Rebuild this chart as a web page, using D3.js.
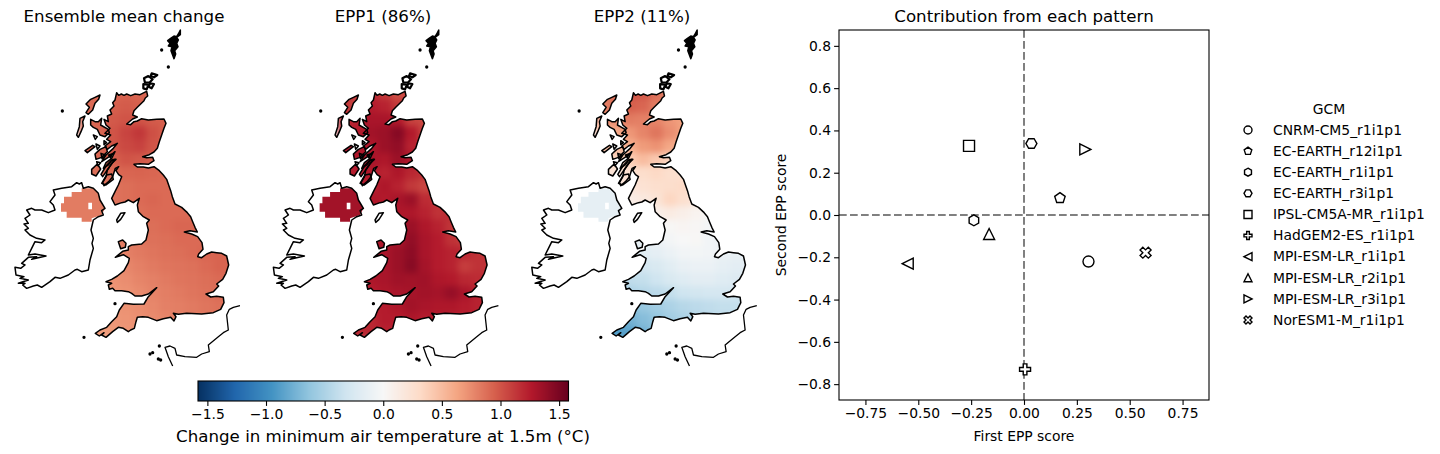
<!DOCTYPE html>
<html><head><meta charset="utf-8">
<script src="https://cdn.jsdelivr.net/npm/d3@7"></script>
<style>
html,body{margin:0;padding:0;background:#fff}
text{font-family:"DejaVu Sans";fill:#000}
</style></head><body>
<svg id="c" width="1440" height="454"></svg>
<script>
// ---- scatter data
const gcms=["CNRM-CM5_r1i1p1","EC-EARTH_r12i1p1","EC-EARTH_r1i1p1","EC-EARTH_r3i1p1","IPSL-CM5A-MR_r1i1p1","HadGEM2-ES_r1i1p1","MPI-ESM-LR_r1i1p1","MPI-ESM-LR_r2i1p1","MPI-ESM-LR_r3i1p1","NorESM1-M_r1i1p1"];
const firstScore=[0.305,0.17,-0.237,0.035,-0.26,0.005,-0.55,-0.165,0.29,0.575];
const secondScore=[-0.22,0.08,-0.025,0.338,0.327,-0.73,-0.23,-0.09,0.31,-0.178];
const markerNames=["circle","pentagon","hexPointy","hexFlat","square","plus","left","up","right","cross"];
const scatterXTicks=[-0.75,-0.5,-0.25,0,0.25,0.5,0.75];
const scatterYTicks=[-0.8,-0.6,-0.4,-0.2,0,0.2,0.4,0.6,0.8];
const barTicks=[-1.5,-1,-0.5,0,0.5,1,1.5];
const panelTitles=["Ensemble mean change","EPP1 (86%)","EPP2 (11%)"];
const rdbuStops=["#053061","#2166ac","#4393c3","#92c5de","#d1e5f0","#f7f7f7","#fddbc7","#f4a582","#d6604d","#b2182b","#67001f"];

// ---- temperature fields (deg C), block rows north to south
const meanField=[
[.90,.90,.92,.93,.92,.92,.90,.90,.90,.90,.90,.90],
[.90,.90,.95,.97,.95,.93,.90,.90,.90,.90,.90,.90],
[.90,.92,.98,1.0,1.0,.97,.95,.90,.90,.90,.90,.90],
[.90,.92,1.0,1.07,1.13,1.02,.95,.90,.90,.90,.90,.90],
[.90,.92,1.0,1.05,1.08,1.0,.95,.90,.90,.90,.90,.90],
[.88,.90,.95,1.0,.98,.95,.92,.90,.90,.90,.90,.90],
[.88,.88,.90,.92,.93,.92,.90,.90,.90,.90,.90,.90],
[.85,.85,.86,.88,.90,.90,.90,.90,.90,.90,.90,.90],
[.85,.85,.86,.88,.90,.92,.90,.90,.90,.90,.90,.90],
[.82,.82,.85,.87,.88,.90,.90,.90,.90,.90,.90,.90],
[.80,.82,.83,.85,.86,.88,.90,.92,.92,.92,.92,.92],
[.80,.80,.80,.83,.85,.87,.88,.90,.90,.90,.90,.90],
[.78,.78,.78,.80,.83,.85,.87,.88,.90,.92,.93,.93],
[.75,.75,.75,.77,.80,.83,.85,.86,.87,.90,.93,.93],
[.72,.72,.72,.74,.78,.80,.83,.85,.86,.88,.90,.90],
[.70,.70,.70,.72,.75,.79,.81,.83,.85,.87,.90,.90],
[.69,.70,.70,.72,.74,.77,.80,.81,.83,.85,.87,.87],
[.68,.68,.70,.71,.73,.75,.78,.80,.82,.84,.85,.85],
[.66,.66,.68,.70,.72,.74,.76,.78,.80,.82,.84,.84]];
const epp1Field=[
[1.2,1.1,1.18,1.12,1.02,1.1,1.2,1.2,1.2,1.2,1.2,1.2],
[1.12,1.05,1.25,1.22,1.12,1.15,1.2,1.2,1.2,1.2,1.2,1.2],
[1.2,1.22,1.3,1.3,1.26,1.08,1.05,1.2,1.2,1.2,1.2,1.2],
[1.2,1.25,1.33,1.36,1.45,1.26,1.08,1.2,1.2,1.2,1.2,1.2],
[1.25,1.28,1.28,1.36,1.4,1.22,1.18,1.2,1.2,1.2,1.2,1.2],
[1.25,1.28,1.3,1.28,1.36,1.28,1.2,1.2,1.2,1.2,1.2,1.2],
[1.25,1.25,1.26,1.22,1.28,1.2,1.15,1.2,1.2,1.2,1.2,1.2],
[1.25,1.25,1.22,1.28,1.22,1.12,1.06,1.12,1.2,1.2,1.2,1.2],
[1.28,1.28,1.28,1.26,1.3,1.36,1.18,1.15,1.2,1.2,1.2,1.2],
[1.28,1.28,1.28,1.28,1.28,1.28,1.22,1.15,1.18,1.2,1.2,1.2],
[1.28,1.28,1.28,1.28,1.28,1.36,1.28,1.22,1.14,1.12,1.2,1.2],
[1.28,1.28,1.3,1.28,1.3,1.4,1.3,1.25,1.15,1.1,1.2,1.2],
[1.28,1.28,1.28,1.3,1.36,1.42,1.3,1.25,1.22,1.2,1.15,1.15],
[1.32,1.32,1.28,1.3,1.36,1.44,1.32,1.25,1.22,1.1,1.15,1.15],
[1.32,1.32,1.28,1.3,1.34,1.33,1.34,1.28,1.26,1.2,1.18,1.18],
[1.28,1.28,1.25,1.28,1.3,1.32,1.33,1.32,1.38,1.3,1.22,1.22],
[1.22,1.22,1.22,1.25,1.28,1.33,1.3,1.28,1.28,1.25,1.22,1.22],
[1.2,1.2,1.2,1.25,1.25,1.28,1.25,1.25,1.22,1.22,1.22,1.22],
[1.2,1.2,1.2,1.22,1.22,1.22,1.22,1.22,1.22,1.22,1.22,1.22]];
const epp2Field=[
[.8,.88,1.0,.98,.88,.75,.65,.6,.6,.6,.6,.6],
[.8,.88,.95,.92,.82,.75,.65,.6,.6,.6,.6,.6],
[.7,.75,.82,.8,.78,.7,.65,.6,.6,.6,.6,.6],
[.55,.6,.7,.78,.85,.74,.65,.6,.6,.6,.6,.6],
[.48,.52,.58,.68,.72,.62,.55,.5,.5,.5,.5,.5],
[.3,.34,.4,.5,.42,.35,.3,.3,.3,.3,.3,.3],
[.2,.22,.25,.28,.32,.27,.25,.25,.2,.2,.2,.2],
[.15,.18,.2,.24,.27,.28,.3,.25,.2,.2,.2,.2],
[.1,.1,.12,.16,.22,.34,.27,.2,.15,.15,.1,.1],
[0,0,0,.05,.1,.14,.1,.05,.02,0,0,0],
[-.05,-.05,-.05,-.03,0,.01,.03,.02,-.03,-.05,-.05,-.05],
[-.12,-.12,-.12,-.12,-.08,-.03,.0,.01,-.05,-.1,-.1,-.1],
[-.2,-.2,-.2,-.18,-.15,-.1,-.05,-.04,-.05,-.1,-.12,-.12],
[-.3,-.3,-.28,-.28,-.25,-.18,-.12,-.1,-.1,-.14,-.17,-.17],
[-.4,-.4,-.4,-.38,-.32,-.25,-.2,-.17,-.17,-.2,-.22,-.22],
[-.5,-.5,-.5,-.45,-.42,-.38,-.32,-.3,-.28,-.28,-.28,-.28],
[-.65,-.65,-.65,-.6,-.55,-.5,-.45,-.42,-.4,-.38,-.38,-.38],
[-.8,-.8,-.75,-.68,-.62,-.55,-.5,-.45,-.42,-.4,-.4,-.4],
[-.9,-.9,-.85,-.75,-.65,-.55,-.5,-.45,-.42,-.4,-.4,-.4]];
const niValues=[0.82,1.33,-0.14];
const fieldCols=[260,300,340,380,420,460,500,540,580,620,660,700];
const fieldRows=[220,260,300,340,380,420,460,500,540,580,620,660,700,740,780,820,860,900,940];

// ---- coastlines in map grid units
const gbCoast=[[350,218],[356,226],[364,222],[372,226],[380,222],[392,227],[405,222],[420,224],[432,218],[440,214],[443,228],[436,234],[432,242],[422,252],[412,262],[402,272],[398,285],[412,291],[398,297],[380,312],[392,314],[402,305],[412,303],[425,296],[445,300],[470,298],[492,297],[498,310],[492,325],[485,345],[478,365],[472,385],[462,396],[448,404],[428,410],[440,413],[458,412],[462,422],[445,433],[420,431],[402,433],[412,441],[430,441],[445,444],[462,440],[478,452],[490,465],[500,478],[507,498],[512,512],[517,530],[525,552],[545,562],[562,578],[572,590],[578,605],[585,622],[592,636],[570,632],[553,636],[575,642],[593,650],[606,668],[609,688],[596,702],[593,710],[605,713],[620,702],[635,696],[650,698],[665,700],[680,708],[686,735],[678,760],[668,778],[650,792],[656,798],[640,815],[618,822],[632,831],[650,829],[670,832],[672,848],[662,868],[640,878],[605,882],[560,880],[535,883],[520,880],[528,890],[522,903],[512,892],[490,896],[470,902],[445,892],[428,890],[412,892],[408,905],[403,925],[392,930],[385,935],[370,925],[355,922],[338,935],[318,952],[305,945],[312,938],[298,948],[286,940],[300,930],[320,922],[335,905],[350,890],[358,870],[372,850],[400,853],[432,852],[445,830],[470,803],[445,822],[425,828],[405,828],[395,820],[385,815],[365,812],[345,812],[338,805],[328,808],[325,795],[335,790],[318,785],[335,778],[352,768],[372,752],[385,728],[388,715],[370,704],[346,712],[368,694],[385,690],[385,680],[395,675],[425,672],[438,660],[445,630],[440,610],[448,600],[430,590],[415,575],[412,555],[418,535],[400,548],[385,540],[375,546],[365,548],[345,555],[335,535],[345,515],[355,495],[365,470],[356,464],[348,452],[356,440],[346,445],[338,470],[326,485],[312,497],[308,488],[318,470],[322,450],[335,430],[348,418],[335,422],[325,435],[310,445],[318,428],[335,415],[345,395],[328,410],[305,425],[318,405],[340,385],[352,370],[335,378],[322,388],[315,378],[332,365],[320,358],[332,345],[315,340],[330,325],[318,315],[312,298],[325,305],[322,288],[335,282],[330,270],[342,258],[338,248],[345,240]];
const irelandCoast=[[230,488],[238,492],[245,488],[250,505],[265,500],[280,505],[295,520],[300,540],[315,565],[305,572],[310,585],[295,590],[280,600],[273,630],[280,655],[276,670],[280,685],[270,720],[265,750],[245,755],[232,748],[225,750],[205,765],[180,775],[165,772],[150,785],[125,802],[112,795],[100,798],[80,805],[68,795],[75,790],[55,790],[85,780],[60,775],[72,770],[48,765],[45,742],[62,745],[75,735],[65,730],[85,712],[110,710],[95,718],[138,708],[105,702],[85,705],[95,685],[105,665],[125,668],[135,660],[110,655],[90,645],[75,630],[85,625],[72,612],[85,610],[75,595],[90,585],[80,570],[95,565],[105,570],[125,570],[145,578],[165,570],[160,555],[150,545],[165,525],[160,510],[185,505],[215,500]];
const lewis=[[300,225],[296,238],[285,250],[278,270],[265,283],[258,278],[268,262],[258,252],[272,238],[285,232]];
const uist=[[255,288],[248,305],[250,318],[243,335],[235,352],[230,345],[238,320],[240,295]];
const skye=[[272,298],[285,305],[295,305],[305,295],[302,315],[325,328],[328,338],[315,350],[300,345],[292,328],[280,322],[272,315]];
const mull=[[285,402],[300,388],[318,380],[322,395],[305,412],[288,418]];
const coll=[[255,392],[278,376],[285,380],[262,398]];
const tiree=[[280,345],[292,350],[286,358]];
const jura=[[345,418],[322,450],[308,470],[303,463],[318,438],[335,420]];
const islay=[[275,448],[292,432],[302,447],[288,468],[275,462]];
const arran=[[320,465],[335,462],[340,478],[318,495],[305,490]];
const anglesey=[[355,665],[368,660],[378,670],[376,682],[362,686]];
const man=[[350,600],[362,580],[375,578],[362,598],[352,607]];
const smallIsles=[[[288,372],[300,378],[292,388]],[[303,400],[316,405],[306,416]],[[290,425],[302,428],[294,437]],[[326,405],[336,402],[332,414]],[[312,362],[320,368],[312,374]]];
const orkneyIslands=[[[455,160],[472,165],[462,172],[452,168]],[[432,175],[445,168],[458,178],[448,188],[435,188]],[[430,192],[445,195],[440,208],[430,205]],[[450,190],[462,192],[455,205],[446,200]]];
const shetland=[[541,30],[535,42],[530,50],[522,48],[512,55],[503,62],[510,70],[505,78],[516,80],[513,92],[522,116],[527,102],[524,92],[534,80],[530,70],[535,60],[530,52],[541,44]];
const specks=[[187,273],[485,90],[505,141],[252,952],[345,851],[458,998],[450,1002],[478,978],[482,1020],[475,1017]];
const franceCoast=[[720,857],[700,862],[688,868],[680,885],[685,930],[670,938],[655,950],[625,975],[628,995],[605,1002],[590,1012],[555,1010],[530,1005],[525,985],[510,978],[495,982],[505,1010],[518,1038]];
const niMask=[[245,516],[245,505],[280,505],[295,520],[300,540],[315,565],[305,585],[275,595],[275,605],[245,605],[245,593],[200,593],[200,575],[183,575],[183,550],[192,550],[192,530],[215,530],[215,516]];
const niHole=[[265,548],[276,548],[276,568],[265,568]];

// ---- layout
const svg=d3.select("#c");
const mapWidth=260, mapHeight=350, panelStep=258.4;
const mx=d3.scaleLinear().domain([0,780]).range([0,mapWidth]);
const my=d3.scaleLinear().domain([0,1050]).range([20,20+mapHeight]);
const vmax=1.58;
const color=d3.scaleLinear().domain(d3.range(11).map(i=>-vmax+i*vmax/5)).range(rdbuStops).clamp(true);
const lineGen=d3.line().x(d=>mx(d[0])).y(d=>my(d[1]));
const ring=p=>lineGen(p)+"Z";

const defs=svg.append("defs");
defs.append("filter").attr("id","soft").attr("x","-10%").attr("y","-10%").attr("width","120%").attr("height","120%")
  .attr("color-interpolation-filters","sRGB")
  .append("feGaussianBlur").attr("stdDeviation",3.2);
const landRings=[gbCoast,lewis,uist,skye,mull,coll,jura,islay,arran,anglesey];
defs.append("clipPath").attr("id","land").append("path")
  .attr("d",landRings.map(ring).join(""));
defs.append("clipPath").attr("id","ni").append("path").attr("clip-rule","evenodd")
  .attr("d",ring(niMask)+ring(niHole));

const fields=[meanField,epp1Field,epp2Field];
fields.forEach((field,pi)=>{
  const g=svg.append("g").attr("transform",`translate(${pi*panelStep},0)`);
  const clip=g.append("g").attr("clip-path","url(#land)");
  const blur=clip.append("g").attr("filter","url(#soft)");
  field.forEach((row,ri)=>row.forEach((v,ci)=>{
    blur.append("rect").attr("x",mx(fieldCols[ci]-20)-0.5).attr("y",my(fieldRows[ri]-20)-0.5)
      .attr("width",mx(40)+1).attr("height",my(40)-my(0)+1).attr("fill",color(v));
  }));
  g.append("g").attr("clip-path","url(#ni)").append("rect")
    .attr("x",mx(170)).attr("y",my(490)).attr("width",mx(160)).attr("height",my(130)-my(0)).attr("fill",color(niValues[pi]));
  const coast=g.append("g").attr("fill","none").attr("stroke","#000").attr("stroke-width",1.5).attr("stroke-linejoin","round");
  [gbCoast,irelandCoast,lewis,uist,skye,mull,coll,tiree,jura,islay,arran,anglesey,man,...smallIsles].forEach(r=>coast.append("path").attr("d",ring(r)));
  orkneyIslands.forEach(r=>coast.append("path").attr("d",ring(r)).attr("stroke-width",2.2));
  coast.append("path").attr("d",lineGen(franceCoast)).attr("stroke-width",1.3);
  coast.append("path").attr("d",ring(shetland)).attr("fill","#000");
  specks.forEach(s=>coast.append("circle").attr("cx",mx(s[0])).attr("cy",my(s[1])).attr("r",0.9).attr("fill","#000"));
  svg.append("text").attr("x",124+pi*259).attr("y",22).attr("text-anchor","middle").attr("font-size",16.67).text(panelTitles[pi]);
});

// ---- colour bar
const barX=d3.scaleLinear().domain([-vmax,vmax]).range([198,568.5]);
const barY0=381, barH=20;
d3.range(198,569).forEach(px=>{
  svg.append("rect").attr("x",px).attr("y",barY0).attr("width",1).attr("height",barH).attr("fill",color(barX.invert(px+0.5))).attr("shape-rendering","crispEdges");
});
svg.append("rect").attr("x",198).attr("y",barY0).attr("width",370.5).attr("height",barH).attr("fill","none").attr("stroke","#000").attr("stroke-width",1.1);
const styleAxis=g=>{g.selectAll("text").attr("font-size",13.89).attr("font-family","DejaVu Sans");g.selectAll("line").attr("stroke-width",1.1);g.select(".domain").remove();};
svg.append("g").attr("transform",`translate(0,${barY0+barH})`).call(d3.axisBottom(barX).tickValues(barTicks).tickFormat(d3.format(".1f")).tickSize(4.9).tickPadding(3)).call(styleAxis);
svg.append("text").attr("x",383).attr("y",442).attr("text-anchor","middle").attr("font-size",16.67).text("Change in minimum air temperature at 1.5m (°C)");

// ---- scatter
const L=839,R=1209,T=30,B=400;
const sx=d3.scaleLinear().domain([-0.875,0.875]).range([L,R]);
const sy=d3.scaleLinear().domain([-0.875,0.875]).range([B,T]);
svg.append("g").attr("transform",`translate(0,${B})`).call(d3.axisBottom(sx).tickValues(scatterXTicks).tickFormat(d3.format(".2f")).tickSize(4.9).tickPadding(3)).call(styleAxis);
svg.append("g").attr("transform",`translate(${L},0)`).call(d3.axisLeft(sy).tickValues(scatterYTicks).tickFormat(d3.format(".1f")).tickSize(4.9).tickPadding(3)).call(styleAxis);
svg.append("line").attr("x1",sx(0)).attr("x2",sx(0)).attr("y1",T).attr("y2",B).attr("stroke","#808080").attr("stroke-width",2).attr("stroke-dasharray","7.7,3.3");
svg.append("line").attr("x1",L).attr("x2",R).attr("y1",sy(0)).attr("y2",sy(0)).attr("stroke","#808080").attr("stroke-width",2).attr("stroke-dasharray","7.7,3.3");
svg.append("rect").attr("x",L).attr("y",T).attr("width",R-L).attr("height",B-T).attr("fill","none").attr("stroke","#000").attr("stroke-width",1.1);
svg.append("text").attr("x",1024).attr("y",22).attr("text-anchor","middle").attr("font-size",16.67).text("Contribution from each pattern");
svg.append("text").attr("x",1024).attr("y",441).attr("text-anchor","middle").attr("font-size",13.89).text("First EPP score");
svg.append("text").attr("transform","translate(786,215) rotate(-90)").attr("text-anchor","middle").attr("font-size",13.89).text("Second EPP score");

const poly=(n,rot)=>s=>d3.range(n).map(i=>{const a=rot+i*2*Math.PI/n;return [s/2*Math.sin(a),-s/2*Math.cos(a)];});
const unit=(pts,k)=>s=>pts.map(p=>[p[0]*s/k,p[1]*s/k]);
const shapes={
 pentagon:poly(5,0),hexPointy:poly(6,0),hexFlat:poly(6,Math.PI/6),
 square:unit([[-1,-1],[1,-1],[1,1],[-1,1]],2),
 plus:unit([[-1,-3],[1,-3],[1,-1],[3,-1],[3,1],[1,1],[1,3],[-1,3],[-1,1],[-3,1],[-3,-1],[-1,-1]],6),
 cross:unit([[-1,-2],[0,-1],[1,-2],[2,-1],[1,0],[2,1],[1,2],[0,1],[-1,2],[-2,1],[-1,0],[-2,-1]],4),
 up:unit([[0,-1],[1,1],[-1,1]],2),left:unit([[-1,0],[1,-1],[1,1]],2),right:unit([[1,0],[-1,-1],[-1,1]],2)
};
function drawMarker(parent,name,x,y,s,sw){
  if(name==="circle") return parent.append("circle").attr("cx",x).attr("cy",y).attr("r",s/2).attr("fill","#fff").attr("stroke","#000").attr("stroke-width",sw);
  parent.append("path").attr("transform",`translate(${x},${y})`).attr("d","M"+shapes[name](s).join("L")+"Z").attr("fill","#fff").attr("stroke","#000").attr("stroke-width",sw);
}
gcms.forEach((g,i)=>drawMarker(svg,markerNames[i],sx(firstScore[i]),sy(secondScore[i]),11,1.4));

// ---- legend
const legendY=d3.scalePoint().domain(gcms).range([130,320]);
svg.append("text").attr("x",1329).attr("y",113.5).attr("text-anchor","middle").attr("font-size",13.89).text("GCM");
gcms.forEach((g,i)=>{
  drawMarker(svg,markerNames[i],1248,legendY(g),8,1.4);
  svg.append("text").attr("x",1273).attr("y",legendY(g)+4.8).attr("font-size",13.89).text(g);
});
</script></body></html>
